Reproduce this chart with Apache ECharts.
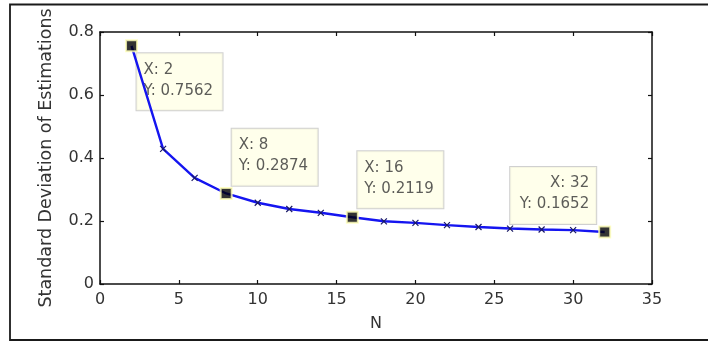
<!DOCTYPE html>
<html>
<head>
<meta charset="utf-8">
<script src="https://cdn.jsdelivr.net/npm/echarts@6/dist/echarts.min.js"></script>
<style>
html,body{margin:0;padding:0;background:#fff;}
#c{width:708px;height:342px;}
</style>
</head>
<body>
<div id="c"></div>
<script>
// Data
var nValues = [2, 4, 6, 8, 10, 12, 14, 16, 18, 20, 22, 24, 26, 28, 30, 32];
var stdValues = [0.7562, 0.429, 0.337, 0.2874, 0.258, 0.238, 0.226, 0.2119, 0.199, 0.194, 0.187, 0.181, 0.176, 0.173, 0.171, 0.1652];
var tipX = [2, 8, 16, 32];
var tipY = [0.7562, 0.2874, 0.2119, 0.1652];
var xTicks = [0, 5, 10, 15, 20, 25, 30, 35];
var yTicks = [0, 0.2, 0.4, 0.6, 0.8];
var xTitle = 'N';
var yTitle = 'Standard Deviation of Estimations';

var FONT = 'DejaVu Sans';
var chart = echarts.init(document.getElementById('c'), null, {renderer: 'canvas'});

var crossPath = 'path://M0,0L10,10M10,0L0,10';

var lineData = nValues.map(function (x, i) {
  var item = {value: [x, stdValues[i]]};
  if (tipX.indexOf(x) >= 0) { item.symbol = 'none'; }
  return item;
});
var tipData = tipX.map(function (x, i) { return [x, tipY[i]]; });

// label placements for each data tip (style only)
var tipLabelStyle = [
  {position: [10.5, 13], align: 'left', verticalAlign: 'top'},
  {position: [11, -2.3], align: 'left', verticalAlign: 'bottom'},
  {position: [10.5, -3.5], align: 'left', verticalAlign: 'bottom'},
  {position: [-3, -2.5], align: 'right', verticalAlign: 'bottom'}
];

var tipLabelData = tipData.map(function (d, i) {
  var s = tipLabelStyle[i];
  return {
    value: d,
    label: {
      show: true,
      position: s.position,
      align: s.align,
      verticalAlign: s.verticalAlign,
      formatter: 'X: ' + d[0] + '\nY: ' + d[1].toFixed(4)
    }
  };
});

var axisCommon = {
  type: 'value',
  axisLine: {show: true, onZero: false, lineStyle: {color: '#111', width: 1.5}},
  axisTick: {show: true, inside: true, length: 4, lineStyle: {color: '#111', width: 1.2}},
  splitLine: {show: false}
};

var option = {
  backgroundColor: '#fff',
  animation: false,
  grid: {left: 100, top: 32, right: 56, bottom: 58, containLabel: false},
  graphic: [{
    type: 'polyline',
    shape: {points: [[712, 4.5], [10, 4.5], [10, 340], [712, 340]]},
    style: {stroke: '#1a1a1a', lineWidth: 1.8, fill: null},
    silent: true
  }],
  xAxis: [
    Object.assign({}, axisCommon, {
      min: xTicks[0], max: xTicks[xTicks.length - 1], interval: 5,
      position: 'bottom',
      name: xTitle, nameLocation: 'middle', nameGap: 32,
      nameTextStyle: {fontFamily: FONT, fontSize: 16, color: '#333'},
      axisLabel: {show: true, margin: 8, fontFamily: FONT, fontSize: 16, color: '#333'}
    }),
    Object.assign({}, axisCommon, {
      min: xTicks[0], max: xTicks[xTicks.length - 1], interval: 5,
      position: 'top',
      axisLabel: {show: false}
    })
  ],
  yAxis: [
    Object.assign({}, axisCommon, {
      min: yTicks[0], max: yTicks[yTicks.length - 1], interval: 0.2,
      position: 'left',
      name: yTitle, nameLocation: 'middle', nameGap: 45,
      nameTextStyle: {fontFamily: FONT, fontSize: 17.5, color: '#333'},
      axisLabel: {show: true, margin: 6, fontFamily: FONT, fontSize: 16, color: '#333'}
    }),
    Object.assign({}, axisCommon, {
      min: yTicks[0], max: yTicks[yTicks.length - 1], interval: 0.2,
      position: 'right',
      axisLabel: {show: false}
    })
  ],
  series: [
    {
      type: 'scatter',
      z: 1,
      symbol: 'rect',
      symbolSize: 11,
      itemStyle: {color: 'rgba(0,0,0,0)'},
      data: tipLabelData,
      label: {
        show: true,
        fontFamily: FONT,
        fontSize: 15,
        lineHeight: 21,
        color: '#333',
        backgroundColor: '#ffffe6',
        borderColor: '#c4c4c4',
        borderWidth: 1,
        padding: [6, 7, 9, 7],
        width: 72
      },
      silent: true
    },
    {
      type: 'line',
      z: 2,
      data: lineData,
      symbol: crossPath,
      symbolSize: 6,
      showSymbol: true,
      lineStyle: {color: '#1515f0', width: 2.4},
      itemStyle: {color: 'rgba(0,0,0,0)', borderColor: '#1a1a66', borderWidth: 1.2},
      silent: true
    },
    {
      type: 'scatter',
      z: 3,
      symbol: 'rect',
      symbolSize: 11,
      itemStyle: {color: '#000', borderColor: '#ffffb8', borderWidth: 2},
      data: tipData,
      silent: true
    }
  ]
};
chart.setOption(option);
</script>
</body>
</html>
